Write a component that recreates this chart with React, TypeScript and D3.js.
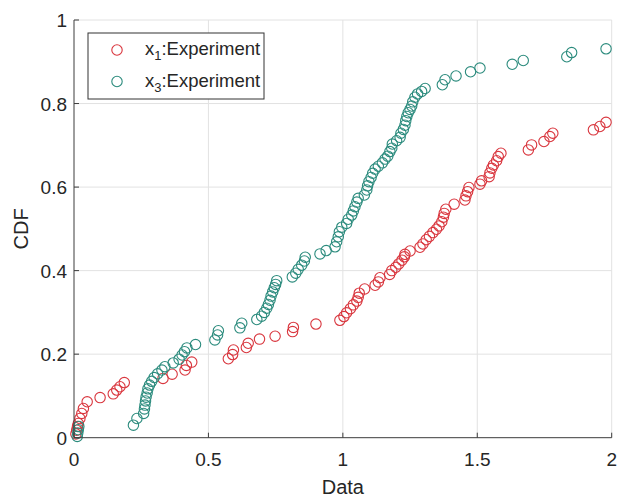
import * as d3 from "d3";

// x1:Experiment (red)
const x1Data = [
  0.007, 0.010, 0.013, 0.016, 0.022, 0.029, 0.035, 0.049, 0.097, 0.146, 0.159, 0.171, 0.187,
  0.331, 0.365, 0.413, 0.418, 0.438, 0.574, 0.590, 0.593, 0.641, 0.648, 0.690, 0.748, 0.813,
  0.816, 0.900, 0.989, 1.004, 1.014, 1.028, 1.039, 1.052, 1.057, 1.061, 1.081, 1.120, 1.132,
  1.138, 1.174, 1.182, 1.197, 1.208, 1.220, 1.229, 1.231, 1.250, 1.287, 1.298, 1.310, 1.322,
  1.335, 1.348, 1.358, 1.368, 1.374, 1.377, 1.383, 1.414, 1.454, 1.458, 1.464, 1.469, 1.510,
  1.516, 1.544, 1.547, 1.554, 1.560, 1.572, 1.578, 1.588, 1.690, 1.702, 1.748, 1.770, 1.781,
  1.932, 1.956, 1.979,
];
const x1Cdf = [
  0.009, 0.018, 0.027, 0.034, 0.046, 0.058, 0.070, 0.086, 0.096, 0.105, 0.114, 0.122, 0.132,
  0.142, 0.152, 0.162, 0.173, 0.181, 0.189, 0.199, 0.210, 0.216, 0.226, 0.236, 0.243, 0.254,
  0.264, 0.272, 0.281, 0.290, 0.299, 0.309, 0.318, 0.327, 0.336, 0.346, 0.356, 0.365, 0.373,
  0.383, 0.391, 0.400, 0.408, 0.416, 0.425, 0.433, 0.439, 0.447, 0.456, 0.464, 0.474, 0.482,
  0.491, 0.499, 0.507, 0.517, 0.528, 0.537, 0.547, 0.559, 0.569, 0.579, 0.589, 0.599, 0.607,
  0.615, 0.625, 0.634, 0.645, 0.653, 0.663, 0.673, 0.681, 0.689, 0.701, 0.709, 0.721, 0.729,
  0.737, 0.745, 0.755,
];

// x3:Experiment (teal)
const x3Data = [
  0.012, 0.014, 0.016, 0.018, 0.221, 0.234, 0.259, 0.262, 0.264, 0.266, 0.268, 0.272, 0.275,
  0.281, 0.289, 0.298, 0.311, 0.327, 0.338, 0.369, 0.391, 0.402, 0.411, 0.420, 0.452, 0.524,
  0.534, 0.537, 0.617, 0.624, 0.680, 0.698, 0.708, 0.717, 0.723, 0.729, 0.733, 0.739, 0.745,
  0.750, 0.754, 0.812, 0.825, 0.834, 0.847, 0.857, 0.860, 0.915, 0.938, 0.971, 0.977, 0.983,
  0.987, 0.996, 1.014, 1.020, 1.033, 1.039, 1.045, 1.052, 1.057, 1.080, 1.089, 1.092, 1.097,
  1.105, 1.111, 1.120, 1.132, 1.147, 1.157, 1.167, 1.175, 1.182, 1.184, 1.200, 1.213, 1.216,
  1.225, 1.231, 1.234, 1.238, 1.243, 1.250, 1.256, 1.260, 1.268, 1.278, 1.293, 1.306, 1.370,
  1.380, 1.421, 1.475, 1.510, 1.630, 1.671, 1.833, 1.851, 1.979,
];
const x3Cdf = [
  0.003, 0.011, 0.019, 0.027, 0.030, 0.046, 0.058, 0.069, 0.078, 0.088, 0.097, 0.107, 0.117,
  0.126, 0.135, 0.144, 0.153, 0.162, 0.170, 0.179, 0.188, 0.198, 0.206, 0.215, 0.223, 0.234,
  0.246, 0.256, 0.263, 0.274, 0.283, 0.291, 0.300, 0.310, 0.319, 0.329, 0.339, 0.349, 0.359,
  0.367, 0.376, 0.385, 0.394, 0.403, 0.413, 0.423, 0.432, 0.440, 0.448, 0.457, 0.469, 0.481,
  0.493, 0.504, 0.513, 0.523, 0.533, 0.543, 0.553, 0.564, 0.573, 0.581, 0.593, 0.603, 0.613,
  0.623, 0.633, 0.643, 0.650, 0.658, 0.667, 0.674, 0.685, 0.693, 0.703, 0.711, 0.719, 0.729,
  0.738, 0.748, 0.759, 0.769, 0.778, 0.786, 0.794, 0.804, 0.815, 0.823, 0.829, 0.836, 0.845,
  0.857, 0.866, 0.876, 0.885, 0.894, 0.903, 0.912, 0.922, 0.931,
];

const xTicks = [0, 0.5, 1, 1.5, 2];
const yTicks = [0, 0.2, 0.4, 0.6, 0.8, 1];

const series = [
  { name: "1", xs: x1Data, ys: x1Cdf, color: "#d9363e" },
  { name: "3", xs: x3Data, ys: x3Cdf, color: "#2b8b7d" },
];

const W = 619;
const H = 499;
const margin = { left: 74, right: 7.3, top: 20, bottom: 61.3 };
const font = "'Liberation Sans', Arial, sans-serif";

export default function App() {
  const x = d3.scaleLinear().domain([0, 2]).range([margin.left, W - margin.right]);
  const y = d3.scaleLinear().domain([0, 1]).range([H - margin.bottom, margin.top]);
  const [x0, x1] = x.range();
  const [y0, y1] = y.range();

  return (
    <svg
      width={W}
      height={H}
      style={{ position: "absolute", left: 0, top: 0, background: "#fff" }}
      fontFamily={font}
    >
      {/* grid */}
      <g stroke="#e2e2e2" strokeWidth={1}>
        {xTicks.slice(1).map((t) => (
          <line key={"gx" + t} x1={x(t)} x2={x(t)} y1={y0} y2={y1} />
        ))}
        {yTicks.slice(1).map((t) => (
          <line key={"gy" + t} x1={x0} x2={x1} y1={y(t)} y2={y(t)} />
        ))}
      </g>

      {/* points */}
      {series.map((s) => (
        <g key={s.name} fill="none" stroke={s.color} strokeWidth={1.1}>
          {s.xs.map((v, i) => (
            <circle key={i} cx={x(v)} cy={y(s.ys[i])} r={5.2} />
          ))}
        </g>
      ))}

      {/* axes */}
      <g stroke="#3c3c3c" strokeWidth={1}>
        <line x1={x0} x2={x1} y1={y0} y2={y0} />
        <line x1={x0} x2={x0} y1={y0} y2={y1} />
        {xTicks.map((t) => (
          <line key={"tx" + t} x1={x(t)} x2={x(t)} y1={y0} y2={y0 - 5} />
        ))}
        {yTicks.map((t) => (
          <line key={"ty" + t} x1={x0} x2={x0 + 5} y1={y(t)} y2={y(t)} />
        ))}
      </g>
      <g fill="#262626" fontSize={19}>
        {xTicks.map((t) => (
          <text key={"lx" + t} x={x(t)} y={y0 + 28} textAnchor="middle">
            {t}
          </text>
        ))}
        {yTicks.map((t) => (
          <text key={"ly" + t} x={x0 - 7} y={y(t)} dy="0.38em" textAnchor="end">
            {t}
          </text>
        ))}
      </g>
      <text x={(x0 + x1) / 2} y={H - 5} textAnchor="middle" fontSize={20} fill="#262626">
        Data
      </text>
      <text
        transform={`translate(28,${(y0 + y1) / 2}) rotate(-90)`}
        textAnchor="middle"
        fontSize={20}
        fill="#262626"
      >
        CDF
      </text>

      {/* legend */}
      <g>
        <rect x={88} y={33} width={176} height={66} fill="#fff" stroke="#333" strokeWidth={1} />
        {series.map((s, i) => (
          <g key={"lg" + s.name} transform={`translate(0,${50 + i * 31.5})`}>
            <circle cx={117} cy={0} r={5.2} fill="none" stroke={s.color} strokeWidth={1.1} />
            <text x={145} y={5} fontSize={18.5} fill="#262626">
              x
              <tspan fontSize={13} dy={5}>
                {s.name}
              </tspan>
              <tspan dy={-5}>:Experiment</tspan>
            </text>
          </g>
        ))}
      </g>
    </svg>
  );
}
